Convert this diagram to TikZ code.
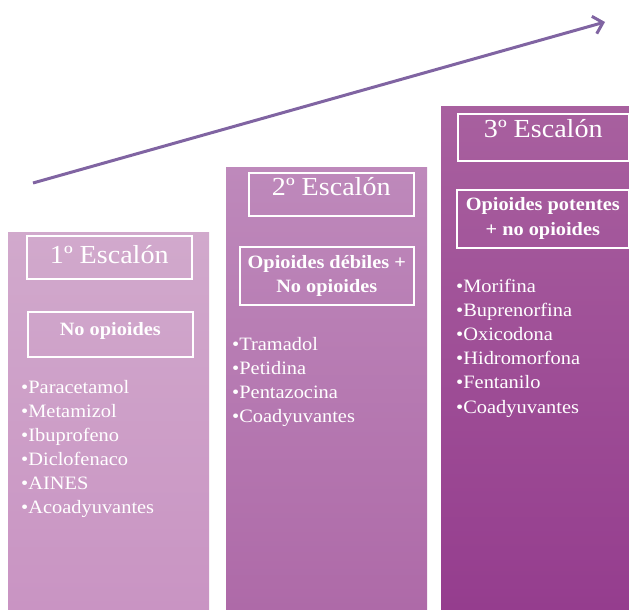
\documentclass[tikz,border=0pt]{standalone}
\usepackage{fontspec}
\setmainfont{Liberation Serif}[FakeStretch=1.08]
\usepackage{tikz}
\usetikzlibrary{arrows.meta,positioning}

\definecolor{flecha}{HTML}{8064A2}
\definecolor{unoarriba}{HTML}{D1A9CC}
\definecolor{unoabajo}{HTML}{C994C3}
\definecolor{dosarriba}{HTML}{BE89BB}
\definecolor{dosabajo}{HTML}{AE6AA8}
\definecolor{tresarriba}{HTML}{A8609F}
\definecolor{tresabajo}{HTML}{953D8E}

\begin{document}
\begin{tikzpicture}[x=1pt, y=-1pt, every node/.style={text=white}]

\tikzstyle{titulo} = [rectangle, draw=white, line width=1.6pt, inner sep=0pt, anchor=north west, font=\fontsize{26}{28}\selectfont]
\tikzstyle{grupo} = [rectangle, draw=white, line width=1.6pt, inner sep=0pt, anchor=north west, align=center, font=\fontsize{18.8}{24}\selectfont\bfseries]
\tikzstyle{item} = [anchor=base west, inner sep=0pt, font=\fontsize{18.9}{24}\selectfont]
\tikzstyle{arrow} = [line width=3pt, draw=flecha, -{Straight Barb[length=9pt,width=18pt]}]

\useasboundingbox (0,0) rectangle (629,610);

% Escalones
\fill[top color=unoarriba, bottom color=unoabajo] (8,232) rectangle (209,610);
\fill[top color=dosarriba, bottom color=dosabajo] (226,167) rectangle (427,610);
\fill[top color=tresarriba, bottom color=tresabajo] (441,106) rectangle (629,610);

% Titulos
\node[titulo, minimum width=165pt, text height=28pt, text depth=15pt] (esc1) at (26,235) {1º Escalón};
\node[titulo, minimum width=165pt, text height=23pt, text depth=20pt] (esc2) at (248,172) {2º Escalón};
\node[titulo, minimum width=171pt, text height=24pt, text depth=23pt] (esc3) at (457,113) {3º Escalón};

% Grupos
\node[grupo, minimum width=165pt, text height=24pt, text depth=21pt] (grupo1) at (27,311) {No opioides};
\node[grupo, minimum width=174pt, minimum height=58pt] (grupo2) at (239,246) {Opioides débiles +\\No opioides};
\node[grupo, minimum width=172pt, minimum height=58pt, font=\fontsize{18.8}{25}\selectfont\bfseries] (grupo3) at (456,189) {Opioides potentes\\+ no opioides};

% Farmacos
\foreach \farmaco [count=\i from 0] in {Paracetamol, Metamizol, Ibuprofeno, Diclofenaco, AINES, Acoadyuvantes}
  \node[item] (uno-\i) at (21,{393+24*\i}) {•\farmaco};
\foreach \farmaco [count=\i from 0] in {Tramadol, Petidina, Pentazocina, Coadyuvantes}
  \node[item] (dos-\i) at (232,{350+24*\i}) {•\farmaco};
\foreach \farmaco [count=\i from 0] in {Morifina, Buprenorfina, Oxicodona, Hidromorfona, Fentanilo, Coadyuvantes}
  \node[item] (tres-\i) at (456,{292+24.2*\i}) {•\farmaco};

% Flecha
\coordinate (inicio) at (33,183);
\coordinate (fin) at (605,22);
\draw[arrow] (inicio) -- (fin);

\end{tikzpicture}
\end{document}
